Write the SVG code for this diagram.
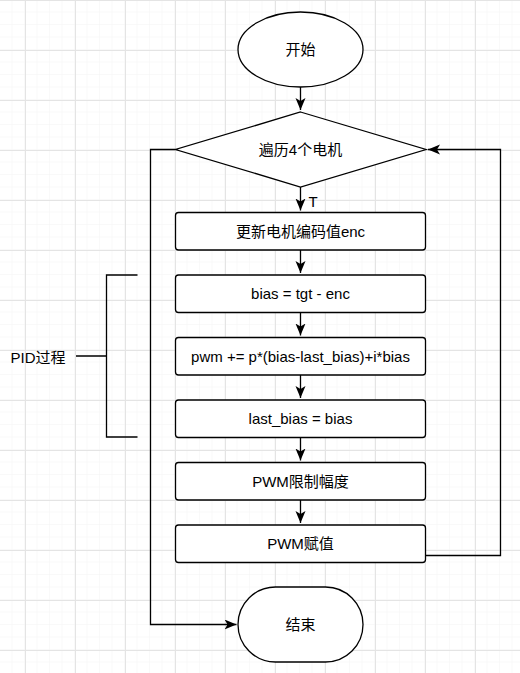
<svg xmlns="http://www.w3.org/2000/svg" width="520" height="673" viewBox="0 0 520 673">
<defs>
<pattern id="minor" width="12.5" height="12.5" patternUnits="userSpaceOnUse">
<path d="M12.5 0V12.5M0 12.5H12.5" stroke="#f3f3f3" stroke-width="1" fill="none"/>
</pattern>
<pattern id="major" x="25" y="0" width="50" height="50" patternUnits="userSpaceOnUse">
<path d="M0.5 0V50M0 0.5H50" stroke="#e4e4e4" stroke-width="1" fill="none"/>
</pattern>
<marker id="arr" markerUnits="userSpaceOnUse" markerWidth="14" markerHeight="12" viewBox="0 0 14 12" refX="12" refY="5" orient="auto">
<path d="M0,0 L12,5 L0,10 L3,5 Z" fill="#000"/>
</marker>
<style>
.shape{fill:#fff;stroke:#000;stroke-width:1.3}
.edge{fill:none;stroke:#000;stroke-width:1.3}
.lbl{font-family:"Liberation Sans","Noto Sans CJK SC",sans-serif;font-size:15px;fill:#000;text-anchor:middle;dominant-baseline:central}
</style>
</defs>
<rect width="520" height="673" fill="#fff"/>
<rect width="520" height="673" fill="url(#minor)"/>
<rect width="520" height="673" fill="url(#major)"/>

<g id="connectors">
<path class="edge" d="M300.5 87V110" marker-end="url(#arr)"/>
<path class="edge" d="M300.5 187V210.5" marker-end="url(#arr)"/>
<path class="edge" d="M300.5 250V273" marker-end="url(#arr)"/>
<path class="edge" d="M300.5 312.5V335.5" marker-end="url(#arr)"/>
<path class="edge" d="M300.5 375V398" marker-end="url(#arr)"/>
<path class="edge" d="M300.5 437.5V460.5" marker-end="url(#arr)"/>
<path class="edge" d="M300.5 500V523" marker-end="url(#arr)"/>
<path class="edge" d="M175.5 149.5H150.5V624.5H236.5" marker-end="url(#arr)"/>
<path class="edge" d="M425.5 555.5H500.5V149.5H428" marker-end="url(#arr)"/>
<text class="lbl" x="313" y="201">T</text>
</g>

<g id="brace">
<path class="edge" d="M137.5 275H106.5V437H137.5M106.5 356H76"/>
<text class="lbl" x="38" y="357">PID过程</text>
</g>

<g id="start">
<ellipse class="shape" cx="300.5" cy="49.5" rx="62.5" ry="37.5"/>
<text class="lbl" x="300.5" y="49.5">开始</text>
</g>
<g id="loop">
<polygon class="shape" points="300.5,112 426,149.5 300.5,187 175.5,149.5"/>
<text class="lbl" x="300.5" y="149.5">遍历4个电机</text>
</g>
<g id="update">
<rect class="shape" x="175.5" y="212.5" width="250" height="37.5" rx="3"/>
<text class="lbl" x="300.5" y="231">更新电机编码值enc</text>
</g>
<g id="bias">
<rect class="shape" x="175.5" y="275" width="250" height="37.5" rx="3"/>
<text class="lbl" x="300.5" y="293.5">bias = tgt - enc</text>
</g>
<g id="pwmcalc">
<rect class="shape" x="175.5" y="337.5" width="250" height="37.5" rx="3"/>
<text class="lbl" x="300.5" y="356">pwm += p*(bias-last_bias)+i*bias</text>
</g>
<g id="lastbias">
<rect class="shape" x="175.5" y="400" width="250" height="37.5" rx="3"/>
<text class="lbl" x="300.5" y="418.5">last_bias = bias</text>
</g>
<g id="limit">
<rect class="shape" x="175.5" y="462.5" width="250" height="37.5" rx="3"/>
<text class="lbl" x="300.5" y="481">PWM限制幅度</text>
</g>
<g id="assign">
<rect class="shape" x="175.5" y="525" width="250" height="37.5" rx="3"/>
<text class="lbl" x="300.5" y="543.5">PWM赋值</text>
</g>
<g id="end">
<rect class="shape" x="238" y="587" width="125" height="75" rx="37.5"/>
<text class="lbl" x="300.5" y="624.5">结束</text>
</g>
</svg>
